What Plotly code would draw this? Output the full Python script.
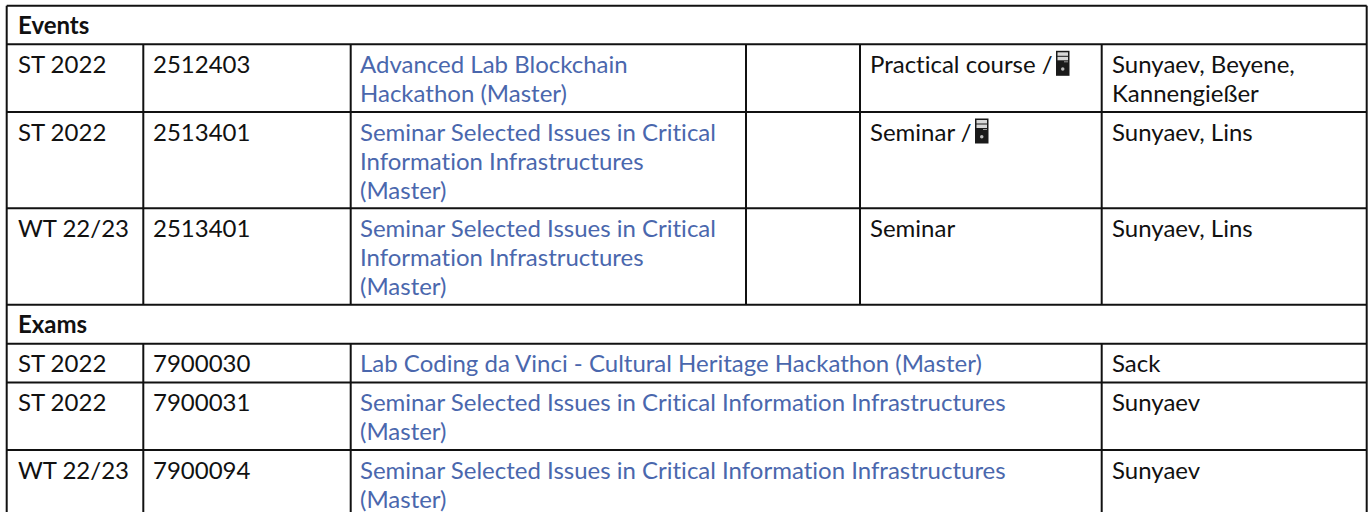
import plotly.graph_objects as go

W, H = 1368, 512
FONT = "Lato"
SIZE = 24
LINE = 29
INK = "#111111"
LINK = "#4a67ad"

col_edges = [6.7, 143.3, 350.7, 746, 860, 1101.7, 1366.7]
row_edges = [5.7, 44.3, 112, 208.3, 304.7, 343.7, 382.5, 450, 518]
text_x = [18, 153, 360, None, 870, 1112]
FIRST = 22.5

headers = [(0, "Events"), (4, "Exams")]
terms = ["ST 2022", "ST 2022", "WT 22/23", "ST 2022", "ST 2022", "WT 22/23"]
numbers = ["2512403", "2513401", "2513401", "7900030", "7900031", "7900094"]
data_rows = [1, 2, 3, 5, 6, 7]
titles = [
    "Advanced Lab Blockchain\nHackathon (Master)",
    "Seminar Selected Issues in Critical\nInformation Infrastructures\n(Master)",
    "Seminar Selected Issues in Critical\nInformation Infrastructures\n(Master)",
    "Lab Coding da Vinci - Cultural Heritage Hackathon (Master)",
    "Seminar Selected Issues in Critical Information Infrastructures\n(Master)",
    "Seminar Selected Issues in Critical Information Infrastructures\n(Master)",
]
kinds = ["Practical course / ", "Seminar / ", "Seminar", None, None, None]
lecturers = [
    "Sunyaev, Beyene,\nKannengießer",
    "Sunyaev, Lins",
    "Sunyaev, Lins",
    "Sack",
    "Sunyaev",
    "Sunyaev",
]
icon_x = [1056, 975]

xs, ys, ts = [], [], []
lx, ly, lt = [], [], []


def put(text, col, row, link=False):
    for i, part in enumerate(text.split("\n")):
        X, Y, T = (lx, ly, lt) if link else (xs, ys, ts)
        X.append(text_x[col])
        Y.append(row_edges[row] + FIRST + i * LINE)
        T.append(part)


hx, hy, ht = [], [], []
for r, label in headers:
    hx.append(text_x[0])
    hy.append(row_edges[r] + FIRST)
    ht.append("<b>" + label + "</b>")

for i, r in enumerate(data_rows):
    put(terms[i], 0, r)
    put(numbers[i], 1, r)
    put(titles[i], 2, r, link=True)
    if kinds[i]:
        put(kinds[i].rstrip(), 4, r)
    put(lecturers[i], 5, r)

fig = go.Figure()
font = dict(family=FONT, size=SIZE, color=INK)
fig.add_trace(go.Scatter(x=xs, y=ys, text=ts, mode="text", textposition="middle right",
                         textfont=font, hoverinfo="skip", cliponaxis=False))
fig.add_trace(go.Scatter(x=lx, y=ly, text=lt, mode="text", textposition="middle right",
                         textfont=dict(family=FONT, size=SIZE, color=LINK), hoverinfo="skip",
                         cliponaxis=False))
fig.add_trace(go.Scatter(x=hx, y=hy, text=ht, mode="text", textposition="middle right",
                         textfont=font, hoverinfo="skip", cliponaxis=False))

shapes = []


def rule(x0, y0, x1, y1):
    shapes.append(dict(type="line", x0=x0, y0=y0, x1=x1, y1=y1, layer="above",
                       line=dict(color="#111111", width=2)))


for y in row_edges:
    rule(col_edges[0], y, col_edges[-1], y)
rule(col_edges[0], row_edges[0], col_edges[0], row_edges[-1])
rule(col_edges[-1], row_edges[0], col_edges[-1], row_edges[-1])
for c in (1, 2):
    rule(col_edges[c], row_edges[1], col_edges[c], row_edges[4])
    rule(col_edges[c], row_edges[5], col_edges[c], row_edges[-1])
for c in (3, 4):
    rule(col_edges[c], row_edges[1], col_edges[c], row_edges[4])
rule(col_edges[5], row_edges[1], col_edges[5], row_edges[4])
rule(col_edges[5], row_edges[5], col_edges[5], row_edges[-1])


def icon(x, y):
    shapes.append(dict(type="rect", x0=x, x1=x + 13.5, y0=y, y1=y + 25, line=dict(width=0),
                       fillcolor="#1a1a1a", layer="above"))
    shapes.append(dict(type="rect", x0=x + 1.5, x1=x + 12, y0=y + 1.5, y1=y + 5, line=dict(width=0),
                       fillcolor="#d8d8d8", layer="above"))
    shapes.append(dict(type="rect", x0=x + 1.5, x1=x + 12, y0=y + 6, y1=y + 9.5, line=dict(width=0),
                       fillcolor="#d8d8d8", layer="above"))
    shapes.append(dict(type="rect", x0=x + 8, x1=x + 12, y0=y + 10.5, y1=y + 11.5, line=dict(width=0),
                       fillcolor="#9a9a9a", layer="above"))
    shapes.append(dict(type="circle", x0=x + 5, x1=x + 8.5, y0=y + 16.5, y1=y + 20, line=dict(width=0),
                       fillcolor="#bbbbbb", layer="above"))


for i, ix in zip([0, 1], icon_x):
    icon(ix, row_edges[data_rows[i]] + 6.5)

axis = dict(visible=False, showgrid=False, zeroline=False, fixedrange=True)
fig.update_layout(
    width=W, height=H, margin=dict(l=0, r=0, t=0, b=0),
    paper_bgcolor="white", plot_bgcolor="white", showlegend=False,
    xaxis=dict(range=[0, W], **axis),
    yaxis=dict(range=[H, 0], **axis),
    shapes=shapes,
)
post = (
    "document.body.style.margin='0';"
    "document.documentElement.style.overflow='hidden';"
    "var s=document.createElement('style');"
    "s.textContent='svg text{font-variant-ligatures:none!important}';"
    "document.head.appendChild(s);"
)
fig.write_html("out.html", config=dict(displayModeBar=False), post_script=post)
